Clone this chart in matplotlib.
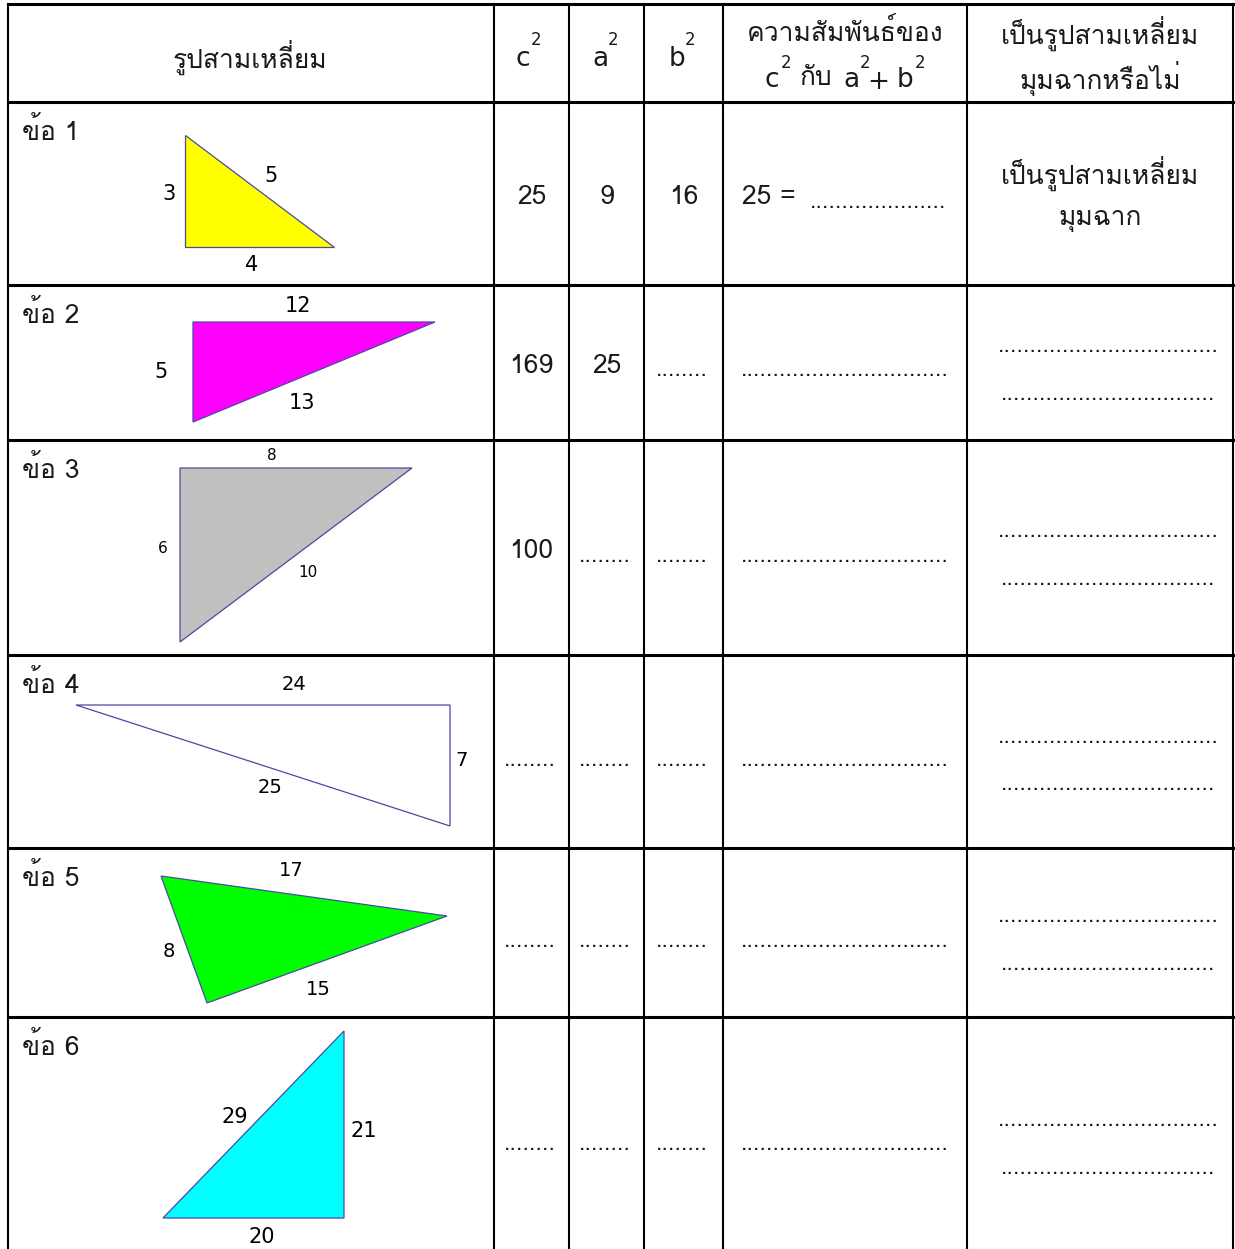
import matplotlib
matplotlib.use("Agg")
import matplotlib.pyplot as plt
import matplotlib.font_manager as fm
from matplotlib.ft2font import FT2Font
from matplotlib.patches import Polygon

# find a family that has Thai glyphs
thai_font = None
for f in fm.fontManager.ttflist:
    try:
        if FT2Font(f.fname).get_char_index(0x0E01):
            thai_font = f.name
            break
    except Exception:
        pass
FONTS = [thai_font, "DejaVu Sans"] if thai_font else ["DejaVu Sans"]
plt.rcParams["font.family"] = FONTS

# table data
row_labels = ["ข้อ 1", "ข้อ 2", "ข้อ 3", "ข้อ 4", "ข้อ 5", "ข้อ 6"]
c2_values = ["25", "169", "100", None, None, None]
a2_values = ["9", "25", None, None, None, None]
b2_values = ["16", None, None, None, None, None]
relation = ["25 = ", None, None, None, None, None]
answer = [["เป็นรูปสามเหลี่ยม", "มุมฉาก"], None, None, None, None, None]

# triangles: vertices, fill, side labels
tri_vertices = [
    [(185, 135), (185, 247), (334, 247)],
    [(193, 322), (435, 322), (193, 422)],
    [(180, 468), (412, 468), (180, 642)],
    [(76, 705), (450, 705), (450, 826)],
    [(161, 876), (447, 916), (207, 1003)],
    [(163, 1218), (344, 1031), (344, 1218)],
]
tri_colors = ["#FFFF00", "#FF00FF", "#C0C0C0", "none", "#00FF00", "#00FFFF"]
tri_labels = [
    [("3", 169, 194), ("5", 271, 176), ("4", 252, 265)],
    [("12", 298, 306), ("5", 161, 372), ("13", 302, 403)],
    [("8", 272, 455), ("6", 163, 548), ("10", 308, 572)],
    [("24", 294, 684), ("7", 462, 760), ("25", 270, 787)],
    [("17", 291, 870), ("8", 169, 951), ("15", 318, 989)],
    [("29", 235, 1117), ("21", 364, 1131), ("20", 262, 1237)],
]
tri_label_size = [15, 15, 11, 14, 14, 15]

# layout
col_x = [8, 494, 569, 644, 723, 967, 1233]
row_y = [4, 102, 285, 440, 655, 848, 1017, 1260]
W, H = 1235, 1249

fig = plt.figure(figsize=(W / 100, H / 100), dpi=100)
ax = fig.add_axes([0, 0, 1, 1])
ax.set_xlim(0, W)
ax.set_ylim(H, 0)
ax.axis("off")

# grid
for y in row_y[:-1]:
    ax.plot([col_x[0], col_x[-1]], [y, y], color="black", lw=2.2, solid_capstyle="projecting")
for x in col_x:
    ax.plot([x, x], [row_y[0], row_y[-1]], color="black", lw=1.5)

TXT = dict(color="#1a1a1a")
body = 19
DOT = dict(ha="center", va="baseline", fontsize=14.7, family="DejaVu Sans", color="#111111")

# header
ax.text(250, 57, "รูปสามเหลี่ยม", ha="center", va="center", fontsize=body, **TXT)
for cx, letter in zip([523, 600, 677], ["c", "a", "b"]):
    ax.text(cx, 59, letter, ha="center", va="center", fontsize=body, family="DejaVu Sans", **TXT)
    ax.text(cx + 13, 40, "2", ha="center", va="center", fontsize=12, family="DejaVu Sans", **TXT)
ax.text(845, 32, "ความสัมพันธ์ของ", ha="center", va="center", fontsize=body, **TXT)
ax.text(772, 80, "c", ha="center", va="center", fontsize=body, family="DejaVu Sans", **TXT)
ax.text(786, 63, "2", ha="center", va="center", fontsize=12, family="DejaVu Sans", **TXT)
ax.text(816, 78, "กับ", ha="center", va="center", fontsize=body, **TXT)
ax.text(851, 80, "a", ha="center", va="center", fontsize=body, family="DejaVu Sans", **TXT)
ax.text(865, 63, "2", ha="center", va="center", fontsize=12, family="DejaVu Sans", **TXT)
ax.text(878, 82, "+", ha="center", va="center", fontsize=body, family="DejaVu Sans", **TXT)
ax.text(905, 80, "b", ha="center", va="center", fontsize=body, family="DejaVu Sans", **TXT)
ax.text(920, 63, "2", ha="center", va="center", fontsize=12, family="DejaVu Sans", **TXT)
ax.text(1100, 33, "เป็นรูปสามเหลี่ยม", ha="center", va="center", fontsize=body, **TXT)
ax.text(1100, 78, "มุมฉากหรือไม่", ha="center", va="center", fontsize=body, **TXT)

col_center = [(col_x[i] + col_x[i + 1]) / 2 for i in range(len(col_x) - 1)]
value_y = [197, 366, 551, 762, 943, 1146]
dot_y = [208, 376, 562, 766, 947, 1150]
ans_y = [None, (352, 400), (537, 585), (743, 790), (922, 970), (1126, 1174)]

for i in range(6):
    top = row_y[i + 1]
    ax.text(22, top + 29, row_labels[i], ha="left", va="center", fontsize=body, **TXT)
    vy = value_y[i]
    for col, vals in zip([1, 2, 3], [c2_values, a2_values, b2_values]):
        if vals[i] is not None:
            ax.text(col_center[col], vy, vals[i], ha="center", va="center", fontsize=body, **TXT)
        else:
            ax.text(col_center[col] - 2, dot_y[i], "." * 8, **DOT)
    if relation[i] is not None:
        ax.text(742, vy, relation[i], ha="left", va="center", fontsize=body, **TXT)
        ax.text(878, dot_y[i], "." * 21, **DOT)
    else:
        ax.text(col_center[4], dot_y[i], "." * 32, **DOT)
    if answer[i] is not None:
        ax.text(col_center[5], 173, answer[i][0], ha="center", va="center", fontsize=body, **TXT)
        ax.text(col_center[5], 220, answer[i][1], ha="center", va="center", fontsize=body, **TXT)
    else:
        y1, y2 = ans_y[i]
        ax.text(1108, y1, "." * 34, **DOT)
        ax.text(1108, y2, "." * 33, **DOT)

# triangles
for verts, color, labels, fs in zip(tri_vertices, tri_colors, tri_labels, tri_label_size):
    ax.add_patch(Polygon(verts, closed=True, facecolor=color, edgecolor="#4a4aa0", lw=0.9))
    for txt, x, y in labels:
        ax.text(x, y, txt, ha="center", va="center", fontsize=fs, family="DejaVu Sans", color="black")

fig.savefig("out.png", dpi=100)
